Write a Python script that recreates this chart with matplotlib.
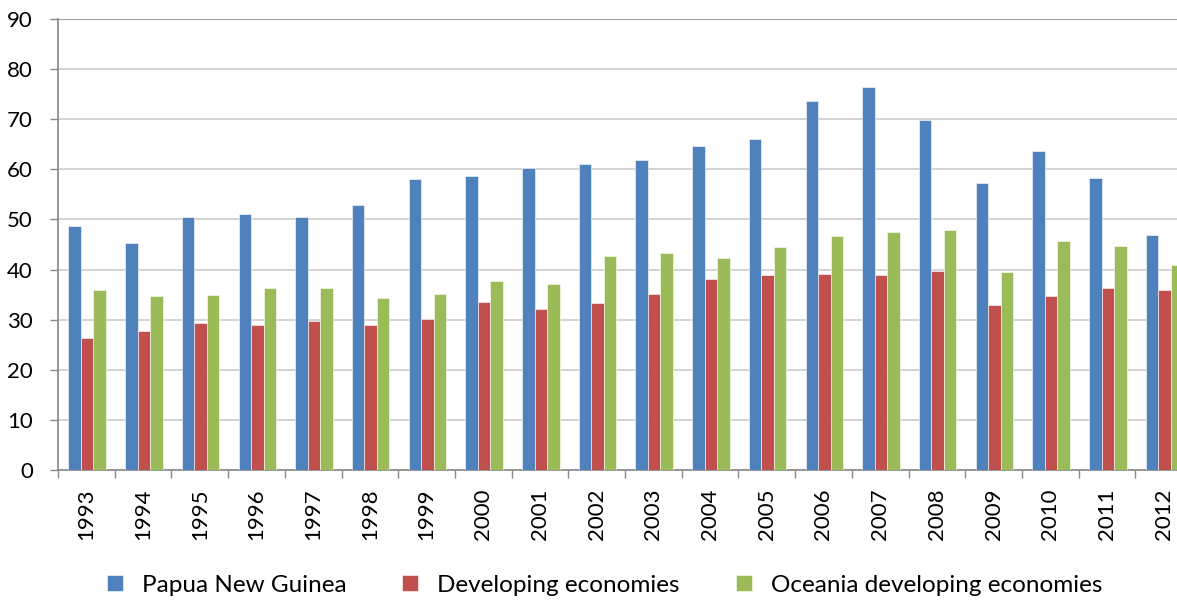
import matplotlib.pyplot as plt
import numpy as np

plt.rcParams['font.family'] = ['Lato', 'DejaVu Sans']

years = [str(y) for y in range(1993, 2013)]
png = [48.6, 45.2, 50.5, 51.0, 50.5, 52.8, 58.0, 58.7, 60.3, 61.0,
       61.9, 64.6, 66.0, 73.6, 76.5, 69.9, 57.3, 63.7, 58.2, 46.8]
developing = [26.3, 27.7, 29.3, 29.0, 29.7, 29.0, 30.1, 33.6, 32.2, 33.3,
              35.2, 38.1, 38.9, 39.1, 38.9, 39.8, 32.9, 34.7, 36.3, 35.9]
oceania = [35.9, 34.7, 35.0, 36.3, 36.3, 34.3, 35.2, 37.7, 37.1, 42.7,
           43.4, 42.3, 44.5, 46.6, 47.5, 47.8, 39.5, 45.7, 44.8, 40.9]

series = [('Papua New Guinea', png, '#4F81BD'),
          ('Developing economies', developing, '#C0504D'),
          ('Oceania developing economies', oceania, '#9BBB59')]

FS = 16
LEG_FS = 17.5


def main():
    fig = plt.figure(figsize=(11.77, 6.01), dpi=100)
    ax = fig.add_axes([58 / 1177, 131 / 601, 1134 / 1177, 451 / 601])

    x = np.arange(len(years))
    w = 0.22
    for i, (name, vals, color) in enumerate(series):
        ax.bar(x + 0.015 + (i - 1) * w, vals, w, color=color, label=name,
               edgecolor='white', linewidth=0.4, zorder=3)

    ax.set_xlim(-0.5, len(years) - 0.5)
    ax.set_ylim(0, 90)
    ax.set_yticks(range(0, 91, 10))
    ax.tick_params(axis='y', labelsize=FS, length=6, color='#888888', width=1, pad=12)
    ax.yaxis.grid(True, color='#d0d0d0', linewidth=1.3, zorder=0)

    ax.set_xticks(x)
    ax.set_xticklabels(years, rotation=90, fontsize=FS)
    ax.tick_params(axis='x', length=0, pad=13)
    ax.set_xticks(np.arange(-0.5, len(years)), minor=True)
    ax.tick_params(axis='x', which='minor', length=6, color='#888888', width=1)

    for s in ['top', 'right']:
        ax.spines[s].set_visible(False)
    for s in ['left', 'bottom']:
        ax.spines[s].set_color('#888888')
        ax.spines[s].set_linewidth(1.2)
    ax.axhline(90, color='#a0a0a0', linewidth=1.5, zorder=2)

    handles, labels = ax.get_legend_handles_labels()
    fig.legend(handles, labels, loc='center', bbox_to_anchor=(0.5136, 1 - 585 / 601),
               ncol=3, frameon=False, fontsize=LEG_FS, handlelength=0.66,
               handleheight=0.66, handletextpad=0.78, columnspacing=2.3)

    fig.savefig('out.png', dpi=100)
    plt.close(fig)


if __name__ == '__main__':
    main()
